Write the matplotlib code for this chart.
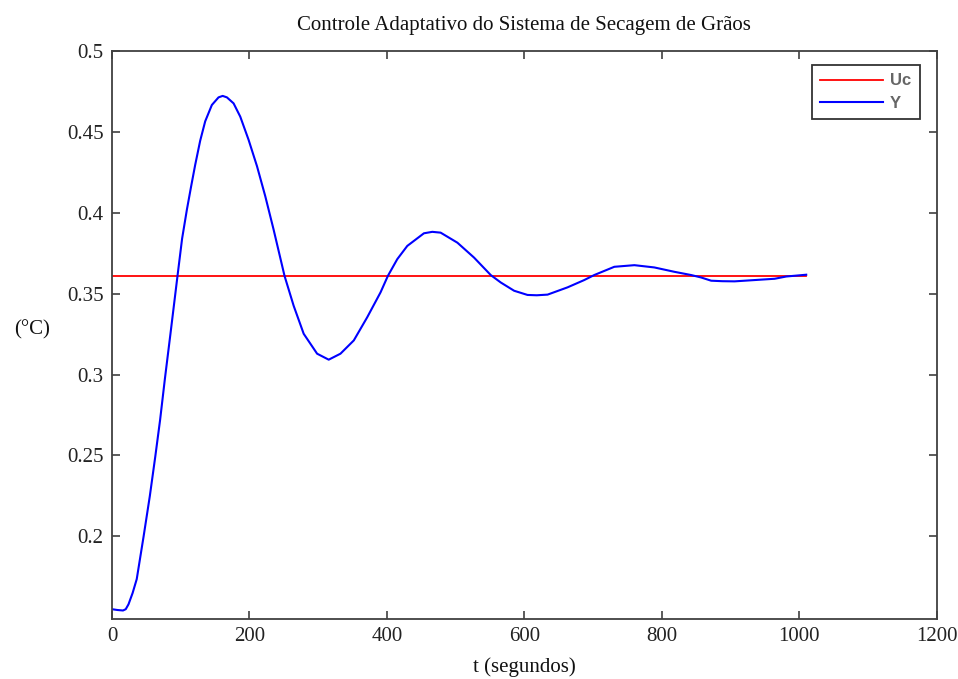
import matplotlib
matplotlib.use("Agg")
import matplotlib.pyplot as plt

# Data
t_y = [0, 8, 16, 20, 24, 30, 36, 46, 55, 63, 70, 77, 85, 95.2, 102, 109, 115, 121,
       128.3, 135.6, 145.3, 155, 161, 167.2, 176.9, 186.6, 198.7, 211, 223, 235, 247.4,
       251, 264.3, 278.9, 298.4, 315.3, 332.4, 351.8, 371.3, 390.7, 401.4, 415, 429.6,
       453.8, 466, 478.1, 502.5, 526.7, 551, 565.6, 585, 604.5, 618, 633.7, 662.8, 687,
       701.6, 730.8, 760, 789, 818.2, 842.6, 857.1, 871.7, 888, 905.7, 934.9, 964, 981, 1010]
y_vals = [0.155, 0.1545, 0.1542, 0.155, 0.158, 0.165, 0.1736, 0.200, 0.2248, 0.2494, 0.272,
          0.2975, 0.325, 0.3606, 0.384, 0.402, 0.416, 0.4295, 0.4445, 0.4565, 0.4666,
          0.4713, 0.4722, 0.4713, 0.4676, 0.4594, 0.4451, 0.4287, 0.4102, 0.3898, 0.3675,
          0.361, 0.3425, 0.3252, 0.3129, 0.3092, 0.3129, 0.3211, 0.3354, 0.3508, 0.361,
          0.3713, 0.3795, 0.3873, 0.3882, 0.3877, 0.3815, 0.3723, 0.3615, 0.3569, 0.3518,
          0.3492, 0.349, 0.3494, 0.3539, 0.3584, 0.3615, 0.3666, 0.3676, 0.3662, 0.3635,
          0.3615, 0.360, 0.358, 0.3577, 0.3576, 0.3584, 0.3592, 0.3606, 0.3617]
t_uc = [0, 1010]
uc_vals = [0.361, 0.361]

xticks = [0, 200, 400, 600, 800, 1000, 1200]
yticks = [0.2, 0.25, 0.3, 0.35, 0.4, 0.45, 0.5]
ytick_labels = ["0.2", "0.25", "0.3", "0.35", "0.4", "0.45", "0.5"]

serif = ["Liberation Serif", "DejaVu Serif"]

fig = plt.figure(figsize=(9.58, 6.79), dpi=100)
ax = fig.add_axes([0.1169, 0.0885, 0.861, 0.8365])

ax.plot(t_uc, uc_vals, color="#ff0000", lw=1.3, label="Uc")
ax.plot(t_y, y_vals, color="#0000ff", lw=1.5, label="Y")

ax.set_xlim(0, 1200)
ax.set_ylim(0.149, 0.5)
ax.set_xticks(xticks)
ax.set_xticklabels([str(v) for v in xticks])
ax.set_yticks(yticks)
ax.set_yticklabels(ytick_labels)

frame_col = "#404040"
for sp in ax.spines.values():
    sp.set_color(frame_col)
    sp.set_linewidth(1.3)
ax.tick_params(direction="in", length=6, width=1.2, color=frame_col,
               top=True, right=True, labelsize=15, pad=6)
for lab in ax.get_xticklabels() + ax.get_yticklabels():
    lab.set_family(serif)
    lab.set_color("#222222")

ax.set_title("Controle Adaptativo do Sistema de Secagem de Grãos", family=serif,
             fontsize=15, pad=15, color="#111111")
ax.set_xlabel("t (segundos)", family=serif, fontsize=15, labelpad=8, color="#111111")
fig.text(0.033, 0.515, "(°C)", family=serif, fontsize=15, ha="center", va="center",
         color="#111111")

leg = ax.legend(loc="upper right", bbox_to_anchor=(0.979, 0.975), fancybox=False,
                framealpha=1, edgecolor="#333333",
                prop={"family": "Liberation Sans", "size": 12, "weight": "bold"},
                handlelength=3.8, borderpad=0.5, labelspacing=0.45, handletextpad=0.4,
                borderaxespad=0)
leg.get_frame().set_linewidth(1.3)
for txt in leg.get_texts():
    txt.set_color("#666666")

fig.savefig("out.png", dpi=100)
